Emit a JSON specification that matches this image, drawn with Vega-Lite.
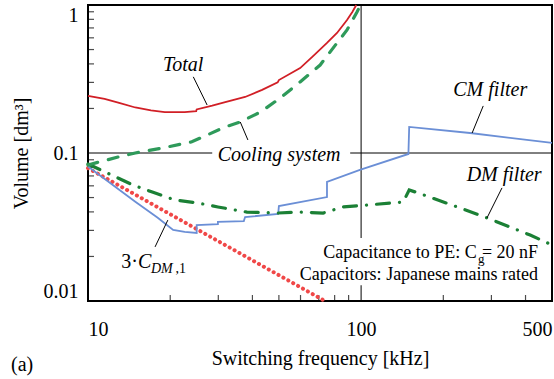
{
  "$schema": "https://vega.github.io/schema/vega-lite/v6.json",
  "width": 464,
  "height": 296,
  "autosize": "none",
  "padding": {"left": 88, "top": 5, "right": 2, "bottom": 78},
  "background": "white",
  "config": {
    "view": {"stroke": "black", "strokeWidth": 2},
    "axis": {
      "domain": false, "grid": false, "ticks": false, "tickSize": 0,
      "labelFont": "Liberation Serif", "labelFontSize": 20, "labelColor": "black",
      "titleFont": "Liberation Serif", "titleFontSize": 20, "titleColor": "black", "titleFontWeight": "normal"
    }
  },
  "title": {"text": "(a)", "orient": "bottom", "anchor": "start", "frame": "bounds", "font": "Liberation Serif", "fontSize": 20, "fontWeight": "normal", "color": "black", "dy": -17},
  "datasets": {
    "total": [
      {"x": 10, "y": 0.243}, {"x": 11.5, "y": 0.232}, {"x": 13, "y": 0.218}, {"x": 14.9, "y": 0.203},
      {"x": 17, "y": 0.194}, {"x": 19.1, "y": 0.189}, {"x": 22.6, "y": 0.189}, {"x": 24.9, "y": 0.192},
      {"x": 25, "y": 0.197}, {"x": 28.5, "y": 0.209}, {"x": 31.8, "y": 0.221}, {"x": 37.6, "y": 0.239},
      {"x": 43.4, "y": 0.267}, {"x": 49.5, "y": 0.300}, {"x": 50, "y": 0.311}, {"x": 59.8, "y": 0.375},
      {"x": 67, "y": 0.455}, {"x": 75, "y": 0.554}, {"x": 81.6, "y": 0.647}, {"x": 88.8, "y": 0.792},
      {"x": 93, "y": 0.9}, {"x": 96, "y": 1.0}
    ],
    "cooling": [
      {"x": 10, "y": 0.083}, {"x": 12.9, "y": 0.094}, {"x": 14.9, "y": 0.1}, {"x": 18.7, "y": 0.108},
      {"x": 24, "y": 0.119}, {"x": 31.8, "y": 0.150}, {"x": 36.1, "y": 0.162}, {"x": 43, "y": 0.19},
      {"x": 50.5, "y": 0.235}, {"x": 59.8, "y": 0.302}, {"x": 70.8, "y": 0.393}, {"x": 81.6, "y": 0.554},
      {"x": 88.8, "y": 0.678}, {"x": 96.6, "y": 0.897}, {"x": 99.5, "y": 1.0}
    ],
    "dm": [
      {"x": 10, "y": 0.0843}, {"x": 12.2, "y": 0.071}, {"x": 14.6, "y": 0.0608}, {"x": 17.2, "y": 0.0545},
      {"x": 20.8, "y": 0.0481}, {"x": 25.3, "y": 0.0459}, {"x": 29.9, "y": 0.0432}, {"x": 38.2, "y": 0.0399},
      {"x": 49.7, "y": 0.0393}, {"x": 59.8, "y": 0.0399}, {"x": 72.6, "y": 0.0393}, {"x": 86, "y": 0.0432},
      {"x": 105, "y": 0.0445}, {"x": 142.5, "y": 0.0466}, {"x": 150, "y": 0.0562}, {"x": 161.8, "y": 0.0537},
      {"x": 230.5, "y": 0.0425}, {"x": 289.6, "y": 0.0364}, {"x": 416, "y": 0.0279}, {"x": 500, "y": 0.0239}
    ],
    "cm": [
      {"i": 1, "x": 10, "y": 0.081}, {"i": 2, "x": 14.86, "y": 0.047}, {"i": 3, "x": 18, "y": 0.0365},
      {"i": 4, "x": 20.5, "y": 0.0302}, {"i": 5, "x": 22.6, "y": 0.0293}, {"i": 6, "x": 25.0, "y": 0.0288},
      {"i": 7, "x": 25.0, "y": 0.0326}, {"i": 8, "x": 29.9, "y": 0.0331}, {"i": 9, "x": 29.9, "y": 0.0342},
      {"i": 10, "x": 37.2, "y": 0.0347}, {"i": 11, "x": 37.6, "y": 0.0369}, {"i": 12, "x": 49.7, "y": 0.0387},
      {"i": 13, "x": 50, "y": 0.0438}, {"i": 14, "x": 75, "y": 0.0504}, {"i": 15, "x": 75, "y": 0.0637},
      {"i": 16, "x": 99, "y": 0.0768}, {"i": 17, "x": 149, "y": 0.0985}, {"i": 18, "x": 150, "y": 0.150},
      {"i": 19, "x": 250.6, "y": 0.1365}, {"i": 20, "x": 500, "y": 0.117}
    ],
    "cdm": [
      {"x": 10, "y": 0.079}, {"x": 73, "y": 0.0101}
    ],
    "xticks": [
      {"x": 20}, {"x": 30}, {"x": 40}, {"x": 50}, {"x": 60}, {"x": 70}, {"x": 80}, {"x": 90},
      {"x": 200}, {"x": 300}, {"x": 400}
    ],
    "yticks": [
      {"y": 0.02}, {"y": 0.03}, {"y": 0.04}, {"y": 0.05}, {"y": 0.06}, {"y": 0.07}, {"y": 0.08}, {"y": 0.09},
      {"y": 0.2}, {"y": 0.3}, {"y": 0.4}, {"y": 0.5}, {"y": 0.6}, {"y": 0.7}, {"y": 0.8}, {"y": 0.9}
    ],
    "leaders": [
      {"x": 24.3, "y": 0.327, "x2": 27.3, "y2": 0.211},
      {"x": 36.1, "y": 0.162, "x2": 38.5, "y2": 0.1225},
      {"x": 280, "y": 0.208, "x2": 255, "y2": 0.1365},
      {"x": 328, "y": 0.0581, "x2": 289, "y2": 0.0364},
      {"x": 19.6, "y": 0.0352, "x2": 17.6, "y2": 0.0232}
    ],
    "masks": [
      {"x": 28.5, "x2": 91.2, "y": 0.0865, "y2": 0.112},
      {"x": 85, "x2": 120, "y": 0.0128, "y2": 0.0267}
    ],
    "labels": [
      {"x": 22.3, "y": 0.394, "t": "Total"},
      {"x": 50.1, "y": 0.097, "t": "Cooling system"},
      {"x": 297, "y": 0.267, "t": "CM filter"},
      {"x": 334, "y": 0.0709, "t": "DM filter"}
    ]
  },
  "layer": [
    {
      "data": {"values": [{"x": 100}]},
      "mark": {"type": "rule", "color": "black", "strokeWidth": 1},
      "encoding": {"x": {"field": "x", "type": "quantitative", "scale": {"type": "log", "domain": [10, 500], "nice": false}, "axis": {
          "title": "Switching frequency [kHz]", "labelFlush": true, "labelPadding": 18, "titlePadding": 9,
          "values": [10, 100, 500], "labelExpr": "datum.value + ''"
        }}}
    },
    {
      "data": {"values": [{"y": 0.1}]},
      "mark": {"type": "rule", "color": "black", "strokeWidth": 1},
      "encoding": {"y": {"field": "y", "type": "quantitative", "scale": {"type": "log", "domain": [0.01, 1], "nice": false}, "axis": {
          "title": "Volume [dm³]", "labelFlush": true, "labelPadding": 10, "titlePadding": 12,
          "values": [0.01, 0.1, 1], "labelExpr": "datum.value + ''"
        }}}
    },
    {
      "data": {"name": "xticks"},
      "mark": {"type": "tick", "orient": "vertical", "color": "black", "size": 6, "thickness": 1.2, "yOffset": -3},
      "encoding": {"x": {"field": "x", "type": "quantitative"}, "y": {"datum": 0.01, "type": "quantitative"}}
    },
    {
      "data": {"name": "yticks"},
      "mark": {"type": "tick", "orient": "horizontal", "color": "black", "size": 6, "thickness": 1.2, "xOffset": 3},
      "encoding": {"y": {"field": "y", "type": "quantitative"}, "x": {"datum": 10, "type": "quantitative"}}
    },
    {
      "data": {"name": "masks"},
      "mark": {"type": "rect", "color": "white"},
      "encoding": {
        "x": {"field": "x", "type": "quantitative"}, "x2": {"field": "x2"},
        "y": {"field": "y", "type": "quantitative"}, "y2": {"field": "y2"}
      }
    },
    {
      "data": {"name": "cdm"},
      "mark": {"type": "line", "color": "#f04848", "strokeWidth": 4, "strokeDash": [0.1, 5.5], "strokeCap": "round"},
      "encoding": {"x": {"field": "x", "type": "quantitative"}, "y": {"field": "y", "type": "quantitative"}}
    },
    {
      "data": {"name": "cm"},
      "mark": {"type": "line", "color": "#6b8fd6", "strokeWidth": 1.8},
      "encoding": {"x": {"field": "x", "type": "quantitative"}, "y": {"field": "y", "type": "quantitative"}, "order": {"field": "i"}}
    },
    {
      "data": {"name": "dm"},
      "mark": {"type": "line", "color": "#1b8035", "strokeWidth": 3.2, "strokeDash": [13, 10, 0.1, 10], "strokeCap": "round"},
      "encoding": {"x": {"field": "x", "type": "quantitative"}, "y": {"field": "y", "type": "quantitative"}}
    },
    {
      "data": {"name": "cooling"},
      "mark": {"type": "line", "color": "#2e9a5a", "strokeWidth": 3.2, "strokeDash": [10, 11], "strokeCap": "round"},
      "encoding": {"x": {"field": "x", "type": "quantitative"}, "y": {"field": "y", "type": "quantitative"}}
    },
    {
      "data": {"name": "total"},
      "mark": {"type": "line", "color": "#d11f26", "strokeWidth": 1.8},
      "encoding": {"x": {"field": "x", "type": "quantitative"}, "y": {"field": "y", "type": "quantitative"}}
    },
    {
      "data": {"name": "leaders"},
      "mark": {"type": "rule", "color": "black", "strokeWidth": 1},
      "encoding": {
        "x": {"field": "x", "type": "quantitative"}, "x2": {"field": "x2"},
        "y": {"field": "y", "type": "quantitative"}, "y2": {"field": "y2"}
      }
    },
    {
      "data": {"name": "labels"},
      "mark": {"type": "text", "font": "Liberation Serif", "fontSize": 20, "fontStyle": "italic", "color": "black", "align": "center", "baseline": "middle"},
      "encoding": {"x": {"field": "x", "type": "quantitative"}, "y": {"field": "y", "type": "quantitative"}, "text": {"field": "t"}}
    },
    {
      "data": {"values": [{"x": 15.24, "y": 0.0184, "t": "3·"}]},
      "mark": {"type": "text", "font": "Liberation Serif", "fontSize": 20, "color": "black", "align": "right", "baseline": "middle"},
      "encoding": {"x": {"field": "x", "type": "quantitative"}, "y": {"field": "y", "type": "quantitative"}, "text": {"field": "t"}}
    },
    {
      "data": {"values": [{"x": 15.24, "y": 0.0184, "t": "C"}]},
      "mark": {"type": "text", "font": "Liberation Serif", "fontSize": 20, "fontStyle": "italic", "color": "black", "align": "left", "baseline": "middle"},
      "encoding": {"x": {"field": "x", "type": "quantitative"}, "y": {"field": "y", "type": "quantitative"}, "text": {"field": "t"}}
    },
    {
      "data": {"values": [{"x": 17.0, "y": 0.0165, "t": "DM"}]},
      "mark": {"type": "text", "font": "Liberation Serif", "fontSize": 14, "fontStyle": "italic", "color": "black", "align": "left", "baseline": "middle"},
      "encoding": {"x": {"field": "x", "type": "quantitative"}, "y": {"field": "y", "type": "quantitative"}, "text": {"field": "t"}}
    },
    {
      "data": {"values": [{"x": 20.9, "y": 0.0165, "t": ",1"}]},
      "mark": {"type": "text", "font": "Liberation Serif", "fontSize": 14, "color": "black", "align": "left", "baseline": "middle"},
      "encoding": {"x": {"field": "x", "type": "quantitative"}, "y": {"field": "y", "type": "quantitative"}, "text": {"field": "t"}}
    },
    {
      "data": {"values": [
        {"x": 265, "y": 0.0211, "t": "Capacitance to PE: C"},
        {"x": 444.6, "y": 0.0211, "t": "= 20 nF"},
        {"x": 444.6, "y": 0.0150, "t": "Capacitors: Japanese mains rated"}
      ]},
      "mark": {"type": "text", "font": "Liberation Serif", "fontSize": 18, "color": "black", "align": "right", "baseline": "middle"},
      "encoding": {"x": {"field": "x", "type": "quantitative"}, "y": {"field": "y", "type": "quantitative"}, "text": {"field": "t"}}
    },
    {
      "data": {"values": [{"x": 283, "y": 0.0193, "t": "g"}]},
      "mark": {"type": "text", "font": "Liberation Serif", "fontSize": 13, "color": "black", "align": "right", "baseline": "middle"},
      "encoding": {"x": {"field": "x", "type": "quantitative"}, "y": {"field": "y", "type": "quantitative"}, "text": {"field": "t"}}
    }
  ]
}
